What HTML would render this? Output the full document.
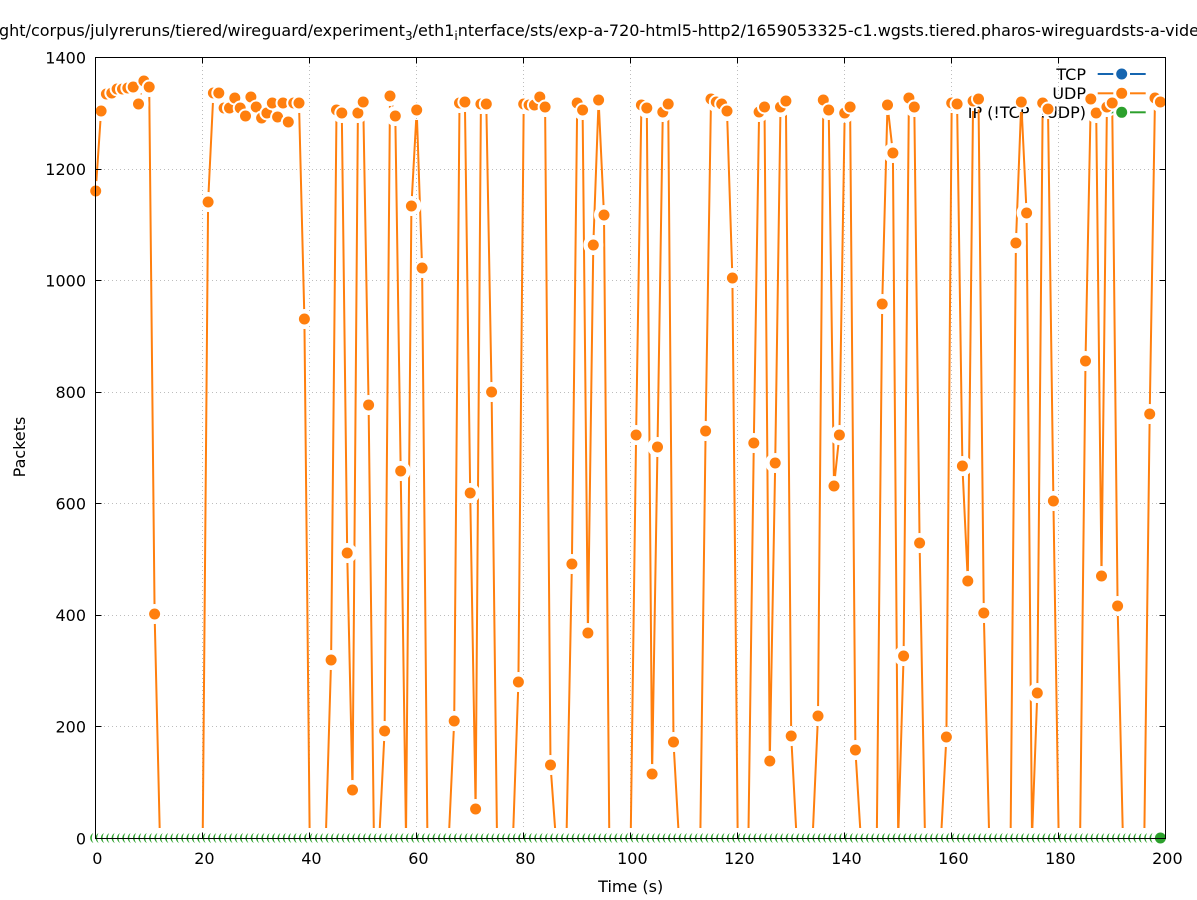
<!DOCTYPE html>
<html><head><meta charset="utf-8"><style>html,body{margin:0;padding:0;background:#fff;}svg{display:block;}</style></head>
<body>
<svg width="1197" height="900" viewBox="0 0 1197 900" xmlns="http://www.w3.org/2000/svg" xmlns:xlink="http://www.w3.org/1999/xlink" font-family="'DejaVu Sans', 'Liberation Sans', sans-serif">
<defs>
<clipPath id="cl"><rect x="95.7" y="57.5" width="1070" height="770.5"/></clipPath>
<circle id="mc" r="10"/>
<g id="op"><circle r="7.5" fill="#fff"/><circle r="5.5" fill="#ff7f0e"/></g>
<g id="gp"><circle cx="0" cy="838" r="9.3" fill="#fff"/><circle cx="0" cy="838" r="5.5" fill="#2ca02c"/></g>
<mask id="mk" maskUnits="userSpaceOnUse" x="0" y="0" width="1197" height="900">
<rect x="0" y="0" width="1197" height="900" fill="#fff"/>
<g fill="#000">
<use href="#mc" x="95.7" y="191"/><use href="#mc" x="101.1" y="111"/><use href="#mc" x="106.4" y="94"/><use href="#mc" x="111.8" y="93"/><use href="#mc" x="117.1" y="89"/><use href="#mc" x="122.5" y="89"/><use href="#mc" x="127.8" y="88"/><use href="#mc" x="133.2" y="87"/><use href="#mc" x="138.5" y="104"/><use href="#mc" x="143.9" y="81"/><use href="#mc" x="149.2" y="87"/><use href="#mc" x="154.6" y="614"/><use href="#mc" x="208.1" y="202"/><use href="#mc" x="213.4" y="93"/><use href="#mc" x="218.8" y="93"/><use href="#mc" x="224.1" y="108"/><use href="#mc" x="229.5" y="108"/><use href="#mc" x="234.8" y="98"/><use href="#mc" x="240.2" y="108"/><use href="#mc" x="245.5" y="116"/><use href="#mc" x="250.9" y="97"/><use href="#mc" x="256.2" y="107"/><use href="#mc" x="261.6" y="118"/><use href="#mc" x="266.9" y="113"/><use href="#mc" x="272.3" y="103"/><use href="#mc" x="277.6" y="117"/><use href="#mc" x="283.0" y="103"/><use href="#mc" x="288.3" y="122"/><use href="#mc" x="293.7" y="103"/><use href="#mc" x="299.0" y="103"/><use href="#mc" x="304.4" y="319"/><use href="#mc" x="331.1" y="660"/><use href="#mc" x="336.5" y="110"/><use href="#mc" x="341.8" y="113"/><use href="#mc" x="347.2" y="553"/><use href="#mc" x="352.5" y="790"/><use href="#mc" x="357.9" y="113"/><use href="#mc" x="363.2" y="102"/><use href="#mc" x="368.6" y="405"/><use href="#mc" x="384.6" y="731"/><use href="#mc" x="390.0" y="96"/><use href="#mc" x="395.3" y="116"/><use href="#mc" x="400.7" y="471"/><use href="#mc" x="411.4" y="206"/><use href="#mc" x="416.7" y="110"/><use href="#mc" x="422.1" y="268"/><use href="#mc" x="454.2" y="721"/><use href="#mc" x="459.5" y="103"/><use href="#mc" x="464.9" y="102"/><use href="#mc" x="470.2" y="493"/><use href="#mc" x="475.6" y="809"/><use href="#mc" x="480.9" y="104"/><use href="#mc" x="486.3" y="104"/><use href="#mc" x="491.6" y="392"/><use href="#mc" x="518.4" y="682"/><use href="#mc" x="523.7" y="104"/><use href="#mc" x="529.1" y="105"/><use href="#mc" x="534.4" y="105"/><use href="#mc" x="539.8" y="97"/><use href="#mc" x="545.1" y="107"/><use href="#mc" x="550.5" y="765"/><use href="#mc" x="571.9" y="564"/><use href="#mc" x="577.2" y="103"/><use href="#mc" x="582.6" y="110"/><use href="#mc" x="587.9" y="633"/><use href="#mc" x="593.3" y="245"/><use href="#mc" x="598.6" y="100"/><use href="#mc" x="604.0" y="215"/><use href="#mc" x="636.1" y="435"/><use href="#mc" x="641.4" y="105"/><use href="#mc" x="646.8" y="108"/><use href="#mc" x="652.1" y="774"/><use href="#mc" x="657.5" y="447"/><use href="#mc" x="662.8" y="112"/><use href="#mc" x="668.2" y="104"/><use href="#mc" x="673.5" y="742"/><use href="#mc" x="705.6" y="431"/><use href="#mc" x="711.0" y="99"/><use href="#mc" x="716.3" y="102"/><use href="#mc" x="721.7" y="104"/><use href="#mc" x="727.0" y="111"/><use href="#mc" x="732.4" y="278"/><use href="#mc" x="753.8" y="443"/><use href="#mc" x="759.1" y="112"/><use href="#mc" x="764.5" y="107"/><use href="#mc" x="769.8" y="761"/><use href="#mc" x="775.2" y="463"/><use href="#mc" x="780.5" y="107"/><use href="#mc" x="785.9" y="101"/><use href="#mc" x="791.2" y="736"/><use href="#mc" x="818.0" y="716"/><use href="#mc" x="823.3" y="100"/><use href="#mc" x="828.7" y="110"/><use href="#mc" x="834.0" y="486"/><use href="#mc" x="839.4" y="435"/><use href="#mc" x="844.7" y="113"/><use href="#mc" x="850.1" y="107"/><use href="#mc" x="855.4" y="750"/><use href="#mc" x="882.2" y="304"/><use href="#mc" x="887.5" y="105"/><use href="#mc" x="892.9" y="153"/><use href="#mc" x="903.6" y="656"/><use href="#mc" x="908.9" y="98"/><use href="#mc" x="914.3" y="107"/><use href="#mc" x="919.6" y="543"/><use href="#mc" x="946.4" y="737"/><use href="#mc" x="951.7" y="103"/><use href="#mc" x="957.1" y="104"/><use href="#mc" x="962.4" y="466"/><use href="#mc" x="967.8" y="581"/><use href="#mc" x="973.1" y="101"/><use href="#mc" x="978.5" y="99"/><use href="#mc" x="983.8" y="613"/><use href="#mc" x="1015.9" y="243"/><use href="#mc" x="1021.3" y="102"/><use href="#mc" x="1026.6" y="213"/><use href="#mc" x="1037.3" y="693"/><use href="#mc" x="1042.7" y="103"/><use href="#mc" x="1048.0" y="109"/><use href="#mc" x="1053.4" y="501"/><use href="#mc" x="1085.5" y="361"/><use href="#mc" x="1090.8" y="99"/><use href="#mc" x="1096.2" y="113"/><use href="#mc" x="1101.5" y="576"/><use href="#mc" x="1106.9" y="107"/><use href="#mc" x="1112.2" y="103"/><use href="#mc" x="1117.6" y="606"/><use href="#mc" x="1149.7" y="414"/><use href="#mc" x="1155.0" y="98"/><use href="#mc" x="1160.4" y="102"/>
</g>
</mask>
</defs>

<rect x="0" y="0" width="1197" height="900" fill="#fff"/>

<!-- title -->
<text x="-1" y="36" font-size="16" fill="#000">ght/corpus/julyreruns/tiered/wireguard/experiment<tspan font-size="12" dy="4">3</tspan><tspan dy="-4">/eth1</tspan><tspan font-size="12" dy="4">i</tspan><tspan dy="-4">nterface/sts/exp-a-720-html5-http2/1659053325-c1.wgsts.tiered.pharos-wireguardsts-a-video</tspan></text>

<!-- grid -->
<g stroke="#bdbdbd" stroke-width="1" stroke-dasharray="1,3" fill="none">
<line x1="202.5" y1="58" x2="202.5" y2="838"/><line x1="309.5" y1="58" x2="309.5" y2="838"/><line x1="416.5" y1="58" x2="416.5" y2="838"/><line x1="523.5" y1="58" x2="523.5" y2="838"/><line x1="630.5" y1="58" x2="630.5" y2="838"/><line x1="737.5" y1="58" x2="737.5" y2="838"/><line x1="844.5" y1="58" x2="844.5" y2="838"/><line x1="951.5" y1="58" x2="951.5" y2="838"/><line x1="1058.5" y1="58" x2="1058.5" y2="838"/>
<line x1="96" y1="726.5" x2="1165" y2="726.5"/><line x1="96" y1="615.5" x2="1165" y2="615.5"/><line x1="96" y1="503.5" x2="1165" y2="503.5"/><line x1="96" y1="392.5" x2="1165" y2="392.5"/><line x1="96" y1="280.5" x2="1165" y2="280.5"/><line x1="96" y1="169.5" x2="1165" y2="169.5"/>
</g>

<!-- legend -->
<g font-size="16" fill="#000" text-anchor="end">
<text x="1086" y="80">TCP</text>
<text x="1086" y="99">UDP</text>
<text x="1086" y="118">IP (!TCP &#160;!UDP)</text>
</g>
<g stroke-width="2">
<line x1="1097.7" y1="74" x2="1113.3" y2="74" stroke="#1565b0"/><line x1="1130" y1="74" x2="1145.7" y2="74" stroke="#1565b0"/>
<line x1="1097.7" y1="93.3" x2="1113.3" y2="93.3" stroke="#ff7f0e"/><line x1="1130" y1="93.3" x2="1145.7" y2="93.3" stroke="#ff7f0e"/>
<line x1="1097.7" y1="112.3" x2="1113.3" y2="112.3" stroke="#2ca02c"/><line x1="1130" y1="112.3" x2="1145.7" y2="112.3" stroke="#2ca02c"/>
</g>
<circle cx="1121.7" cy="74" r="5.5" fill="#1565b0"/>
<circle cx="1121.7" cy="93.3" r="5.5" fill="#ff7f0e"/>
<circle cx="1121.7" cy="112.3" r="5.5" fill="#2ca02c"/>

<!-- UDP line -->
<g clip-path="url(#cl)">
<g mask="url(#mk)">
<polyline fill="none" stroke="#ff7f0e" stroke-width="2" stroke-linejoin="round" points="95.7,191 101.1,111 106.4,94 111.8,93 117.1,89 122.5,89 127.8,88 133.2,87 138.5,104 143.9,81 149.2,87 154.6,614 159.9,838 202.7,838 208.1,202 213.4,93 218.8,93 224.1,108 229.5,108 234.8,98 240.2,108 245.5,116 250.9,97 256.2,107 261.6,118 266.9,113 272.3,103 277.6,117 283.0,103 288.3,122 293.7,103 299.0,103 304.4,319 309.7,838 325.8,838 331.1,660 336.5,110 341.8,113 347.2,553 352.5,790 357.9,113 363.2,102 368.6,405 373.9,838 379.3,838 384.6,731 390.0,96 395.3,116 400.7,471 406.0,838 411.4,206 416.7,110 422.1,268 427.4,838 448.8,838 454.2,721 459.5,103 464.9,102 470.2,493 475.6,809 480.9,104 486.3,104 491.6,392 497.0,838 513.0,838 518.4,682 523.7,104 529.1,105 534.4,105 539.8,97 545.1,107 550.5,765 555.8,838 566.5,838 571.9,564 577.2,103 582.6,110 587.9,633 593.3,245 598.6,100 604.0,215 609.3,838 630.7,838 636.1,435 641.4,105 646.8,108 652.1,774 657.5,447 662.8,112 668.2,104 673.5,742 678.9,838 700.3,838 705.6,431 711.0,99 716.3,102 721.7,104 727.0,111 732.4,278 737.7,838 748.4,838 753.8,443 759.1,112 764.5,107 769.8,761 775.2,463 780.5,107 785.9,101 791.2,736 796.6,838 812.6,838 818.0,716 823.3,100 828.7,110 834.0,486 839.4,435 844.7,113 850.1,107 855.4,750 860.8,838 876.8,838 882.2,304 887.5,105 892.9,153 898.2,838 903.6,656 908.9,98 914.3,107 919.6,543 925.0,838 941.0,838 946.4,737 951.7,103 957.1,104 962.4,466 967.8,581 973.1,101 978.5,99 983.8,613 989.2,838 1010.6,838 1015.9,243 1021.3,102 1026.6,213 1032.0,838 1037.3,693 1042.7,103 1048.0,109 1053.4,501 1058.7,838 1080.1,838 1085.5,361 1090.8,99 1096.2,113 1101.5,576 1106.9,107 1112.2,103 1117.6,606 1122.9,838 1144.3,838 1149.7,414 1155.0,98 1160.4,102"/>
</g>
</g>

<!-- UDP points -->
<g>
<use href="#op" x="95.7" y="191"/><use href="#op" x="101.1" y="111"/><use href="#op" x="106.4" y="94"/><use href="#op" x="111.8" y="93"/><use href="#op" x="117.1" y="89"/><use href="#op" x="122.5" y="89"/><use href="#op" x="127.8" y="88"/><use href="#op" x="133.2" y="87"/><use href="#op" x="138.5" y="104"/><use href="#op" x="143.9" y="81"/><use href="#op" x="149.2" y="87"/><use href="#op" x="154.6" y="614"/><use href="#op" x="208.1" y="202"/><use href="#op" x="213.4" y="93"/><use href="#op" x="218.8" y="93"/><use href="#op" x="224.1" y="108"/><use href="#op" x="229.5" y="108"/><use href="#op" x="234.8" y="98"/><use href="#op" x="240.2" y="108"/><use href="#op" x="245.5" y="116"/><use href="#op" x="250.9" y="97"/><use href="#op" x="256.2" y="107"/><use href="#op" x="261.6" y="118"/><use href="#op" x="266.9" y="113"/><use href="#op" x="272.3" y="103"/><use href="#op" x="277.6" y="117"/><use href="#op" x="283.0" y="103"/><use href="#op" x="288.3" y="122"/><use href="#op" x="293.7" y="103"/><use href="#op" x="299.0" y="103"/><use href="#op" x="304.4" y="319"/><use href="#op" x="331.1" y="660"/><use href="#op" x="336.5" y="110"/><use href="#op" x="341.8" y="113"/><use href="#op" x="347.2" y="553"/><use href="#op" x="352.5" y="790"/><use href="#op" x="357.9" y="113"/><use href="#op" x="363.2" y="102"/><use href="#op" x="368.6" y="405"/><use href="#op" x="384.6" y="731"/><use href="#op" x="390.0" y="96"/><use href="#op" x="395.3" y="116"/><use href="#op" x="400.7" y="471"/><use href="#op" x="411.4" y="206"/><use href="#op" x="416.7" y="110"/><use href="#op" x="422.1" y="268"/><use href="#op" x="454.2" y="721"/><use href="#op" x="459.5" y="103"/><use href="#op" x="464.9" y="102"/><use href="#op" x="470.2" y="493"/><use href="#op" x="475.6" y="809"/><use href="#op" x="480.9" y="104"/><use href="#op" x="486.3" y="104"/><use href="#op" x="491.6" y="392"/><use href="#op" x="518.4" y="682"/><use href="#op" x="523.7" y="104"/><use href="#op" x="529.1" y="105"/><use href="#op" x="534.4" y="105"/><use href="#op" x="539.8" y="97"/><use href="#op" x="545.1" y="107"/><use href="#op" x="550.5" y="765"/><use href="#op" x="571.9" y="564"/><use href="#op" x="577.2" y="103"/><use href="#op" x="582.6" y="110"/><use href="#op" x="587.9" y="633"/><use href="#op" x="593.3" y="245"/><use href="#op" x="598.6" y="100"/><use href="#op" x="604.0" y="215"/><use href="#op" x="636.1" y="435"/><use href="#op" x="641.4" y="105"/><use href="#op" x="646.8" y="108"/><use href="#op" x="652.1" y="774"/><use href="#op" x="657.5" y="447"/><use href="#op" x="662.8" y="112"/><use href="#op" x="668.2" y="104"/><use href="#op" x="673.5" y="742"/><use href="#op" x="705.6" y="431"/><use href="#op" x="711.0" y="99"/><use href="#op" x="716.3" y="102"/><use href="#op" x="721.7" y="104"/><use href="#op" x="727.0" y="111"/><use href="#op" x="732.4" y="278"/><use href="#op" x="753.8" y="443"/><use href="#op" x="759.1" y="112"/><use href="#op" x="764.5" y="107"/><use href="#op" x="769.8" y="761"/><use href="#op" x="775.2" y="463"/><use href="#op" x="780.5" y="107"/><use href="#op" x="785.9" y="101"/><use href="#op" x="791.2" y="736"/><use href="#op" x="818.0" y="716"/><use href="#op" x="823.3" y="100"/><use href="#op" x="828.7" y="110"/><use href="#op" x="834.0" y="486"/><use href="#op" x="839.4" y="435"/><use href="#op" x="844.7" y="113"/><use href="#op" x="850.1" y="107"/><use href="#op" x="855.4" y="750"/><use href="#op" x="882.2" y="304"/><use href="#op" x="887.5" y="105"/><use href="#op" x="892.9" y="153"/><use href="#op" x="903.6" y="656"/><use href="#op" x="908.9" y="98"/><use href="#op" x="914.3" y="107"/><use href="#op" x="919.6" y="543"/><use href="#op" x="946.4" y="737"/><use href="#op" x="951.7" y="103"/><use href="#op" x="957.1" y="104"/><use href="#op" x="962.4" y="466"/><use href="#op" x="967.8" y="581"/><use href="#op" x="973.1" y="101"/><use href="#op" x="978.5" y="99"/><use href="#op" x="983.8" y="613"/><use href="#op" x="1015.9" y="243"/><use href="#op" x="1021.3" y="102"/><use href="#op" x="1026.6" y="213"/><use href="#op" x="1037.3" y="693"/><use href="#op" x="1042.7" y="103"/><use href="#op" x="1048.0" y="109"/><use href="#op" x="1053.4" y="501"/><use href="#op" x="1085.5" y="361"/><use href="#op" x="1090.8" y="99"/><use href="#op" x="1096.2" y="113"/><use href="#op" x="1101.5" y="576"/><use href="#op" x="1106.9" y="107"/><use href="#op" x="1112.2" y="103"/><use href="#op" x="1117.6" y="606"/><use href="#op" x="1149.7" y="414"/><use href="#op" x="1155.0" y="98"/><use href="#op" x="1160.4" y="102"/>
</g>

<!-- IP points (all zero) -->
<g>
<use href="#gp" x="95.7"/><use href="#gp" x="101.1"/><use href="#gp" x="106.4"/><use href="#gp" x="111.8"/><use href="#gp" x="117.1"/><use href="#gp" x="122.5"/><use href="#gp" x="127.8"/><use href="#gp" x="133.2"/><use href="#gp" x="138.5"/><use href="#gp" x="143.9"/><use href="#gp" x="149.2"/><use href="#gp" x="154.6"/><use href="#gp" x="159.9"/><use href="#gp" x="165.3"/><use href="#gp" x="170.6"/><use href="#gp" x="176.0"/><use href="#gp" x="181.3"/><use href="#gp" x="186.7"/><use href="#gp" x="192.0"/><use href="#gp" x="197.4"/>
<use href="#gp" x="202.7"/><use href="#gp" x="208.1"/><use href="#gp" x="213.4"/><use href="#gp" x="218.8"/><use href="#gp" x="224.1"/><use href="#gp" x="229.5"/><use href="#gp" x="234.8"/><use href="#gp" x="240.2"/><use href="#gp" x="245.5"/><use href="#gp" x="250.9"/><use href="#gp" x="256.2"/><use href="#gp" x="261.6"/><use href="#gp" x="266.9"/><use href="#gp" x="272.3"/><use href="#gp" x="277.6"/><use href="#gp" x="283.0"/><use href="#gp" x="288.3"/><use href="#gp" x="293.7"/><use href="#gp" x="299.0"/><use href="#gp" x="304.4"/>
<use href="#gp" x="309.7"/><use href="#gp" x="315.1"/><use href="#gp" x="320.4"/><use href="#gp" x="325.8"/><use href="#gp" x="331.1"/><use href="#gp" x="336.5"/><use href="#gp" x="341.8"/><use href="#gp" x="347.2"/><use href="#gp" x="352.5"/><use href="#gp" x="357.9"/><use href="#gp" x="363.2"/><use href="#gp" x="368.6"/><use href="#gp" x="373.9"/><use href="#gp" x="379.3"/><use href="#gp" x="384.6"/><use href="#gp" x="390.0"/><use href="#gp" x="395.3"/><use href="#gp" x="400.7"/><use href="#gp" x="406.0"/><use href="#gp" x="411.4"/>
<use href="#gp" x="416.7"/><use href="#gp" x="422.1"/><use href="#gp" x="427.4"/><use href="#gp" x="432.8"/><use href="#gp" x="438.1"/><use href="#gp" x="443.5"/><use href="#gp" x="448.8"/><use href="#gp" x="454.2"/><use href="#gp" x="459.5"/><use href="#gp" x="464.9"/><use href="#gp" x="470.2"/><use href="#gp" x="475.6"/><use href="#gp" x="480.9"/><use href="#gp" x="486.3"/><use href="#gp" x="491.6"/><use href="#gp" x="497.0"/><use href="#gp" x="502.3"/><use href="#gp" x="507.7"/><use href="#gp" x="513.0"/><use href="#gp" x="518.4"/>
<use href="#gp" x="523.7"/><use href="#gp" x="529.1"/><use href="#gp" x="534.4"/><use href="#gp" x="539.8"/><use href="#gp" x="545.1"/><use href="#gp" x="550.5"/><use href="#gp" x="555.8"/><use href="#gp" x="561.2"/><use href="#gp" x="566.5"/><use href="#gp" x="571.9"/><use href="#gp" x="577.2"/><use href="#gp" x="582.6"/><use href="#gp" x="587.9"/><use href="#gp" x="593.3"/><use href="#gp" x="598.6"/><use href="#gp" x="604.0"/><use href="#gp" x="609.3"/><use href="#gp" x="614.7"/><use href="#gp" x="620.0"/><use href="#gp" x="625.4"/>
<use href="#gp" x="630.7"/><use href="#gp" x="636.1"/><use href="#gp" x="641.4"/><use href="#gp" x="646.8"/><use href="#gp" x="652.1"/><use href="#gp" x="657.5"/><use href="#gp" x="662.8"/><use href="#gp" x="668.2"/><use href="#gp" x="673.5"/><use href="#gp" x="678.9"/><use href="#gp" x="684.2"/><use href="#gp" x="689.6"/><use href="#gp" x="694.9"/><use href="#gp" x="700.3"/><use href="#gp" x="705.6"/><use href="#gp" x="711.0"/><use href="#gp" x="716.3"/><use href="#gp" x="721.7"/><use href="#gp" x="727.0"/><use href="#gp" x="732.4"/>
<use href="#gp" x="737.7"/><use href="#gp" x="743.1"/><use href="#gp" x="748.4"/><use href="#gp" x="753.8"/><use href="#gp" x="759.1"/><use href="#gp" x="764.5"/><use href="#gp" x="769.8"/><use href="#gp" x="775.2"/><use href="#gp" x="780.5"/><use href="#gp" x="785.9"/><use href="#gp" x="791.2"/><use href="#gp" x="796.6"/><use href="#gp" x="801.9"/><use href="#gp" x="807.3"/><use href="#gp" x="812.6"/><use href="#gp" x="818.0"/><use href="#gp" x="823.3"/><use href="#gp" x="828.7"/><use href="#gp" x="834.0"/><use href="#gp" x="839.4"/>
<use href="#gp" x="844.7"/><use href="#gp" x="850.1"/><use href="#gp" x="855.4"/><use href="#gp" x="860.8"/><use href="#gp" x="866.1"/><use href="#gp" x="871.5"/><use href="#gp" x="876.8"/><use href="#gp" x="882.2"/><use href="#gp" x="887.5"/><use href="#gp" x="892.9"/><use href="#gp" x="898.2"/><use href="#gp" x="903.6"/><use href="#gp" x="908.9"/><use href="#gp" x="914.3"/><use href="#gp" x="919.6"/><use href="#gp" x="925.0"/><use href="#gp" x="930.3"/><use href="#gp" x="935.7"/><use href="#gp" x="941.0"/><use href="#gp" x="946.4"/>
<use href="#gp" x="951.7"/><use href="#gp" x="957.1"/><use href="#gp" x="962.4"/><use href="#gp" x="967.8"/><use href="#gp" x="973.1"/><use href="#gp" x="978.5"/><use href="#gp" x="983.8"/><use href="#gp" x="989.2"/><use href="#gp" x="994.5"/><use href="#gp" x="999.9"/><use href="#gp" x="1005.2"/><use href="#gp" x="1010.6"/><use href="#gp" x="1015.9"/><use href="#gp" x="1021.3"/><use href="#gp" x="1026.6"/><use href="#gp" x="1032.0"/><use href="#gp" x="1037.3"/><use href="#gp" x="1042.7"/><use href="#gp" x="1048.0"/><use href="#gp" x="1053.4"/>
<use href="#gp" x="1058.7"/><use href="#gp" x="1064.1"/><use href="#gp" x="1069.4"/><use href="#gp" x="1074.8"/><use href="#gp" x="1080.1"/><use href="#gp" x="1085.5"/><use href="#gp" x="1090.8"/><use href="#gp" x="1096.2"/><use href="#gp" x="1101.5"/><use href="#gp" x="1106.9"/><use href="#gp" x="1112.2"/><use href="#gp" x="1117.6"/><use href="#gp" x="1122.9"/><use href="#gp" x="1128.3"/><use href="#gp" x="1133.6"/><use href="#gp" x="1139.0"/><use href="#gp" x="1144.3"/><use href="#gp" x="1149.7"/><use href="#gp" x="1155.0"/><use href="#gp" x="1160.4"/>
</g>

<!-- border and ticks -->
<rect x="95.5" y="57.5" width="1070" height="781" fill="none" stroke="#000" stroke-width="1"/>
<g stroke="#000" stroke-width="1">
<line x1="202.5" y1="838.5" x2="202.5" y2="832.5"/><line x1="309.5" y1="838.5" x2="309.5" y2="832.5"/><line x1="416.5" y1="838.5" x2="416.5" y2="832.5"/><line x1="523.5" y1="838.5" x2="523.5" y2="832.5"/><line x1="630.5" y1="838.5" x2="630.5" y2="832.5"/><line x1="737.5" y1="838.5" x2="737.5" y2="832.5"/><line x1="844.5" y1="838.5" x2="844.5" y2="832.5"/><line x1="951.5" y1="838.5" x2="951.5" y2="832.5"/><line x1="1058.5" y1="838.5" x2="1058.5" y2="832.5"/>
<line x1="202.5" y1="57.5" x2="202.5" y2="63.5"/><line x1="309.5" y1="57.5" x2="309.5" y2="63.5"/><line x1="416.5" y1="57.5" x2="416.5" y2="63.5"/><line x1="523.5" y1="57.5" x2="523.5" y2="63.5"/><line x1="630.5" y1="57.5" x2="630.5" y2="63.5"/><line x1="737.5" y1="57.5" x2="737.5" y2="63.5"/><line x1="844.5" y1="57.5" x2="844.5" y2="63.5"/><line x1="951.5" y1="57.5" x2="951.5" y2="63.5"/><line x1="1058.5" y1="57.5" x2="1058.5" y2="63.5"/>
<line x1="95.5" y1="726.5" x2="101.5" y2="726.5"/><line x1="95.5" y1="615.5" x2="101.5" y2="615.5"/><line x1="95.5" y1="503.5" x2="101.5" y2="503.5"/><line x1="95.5" y1="392.5" x2="101.5" y2="392.5"/><line x1="95.5" y1="280.5" x2="101.5" y2="280.5"/><line x1="95.5" y1="169.5" x2="101.5" y2="169.5"/>
<line x1="1165.5" y1="726.5" x2="1159.5" y2="726.5"/><line x1="1165.5" y1="615.5" x2="1159.5" y2="615.5"/><line x1="1165.5" y1="503.5" x2="1159.5" y2="503.5"/><line x1="1165.5" y1="392.5" x2="1159.5" y2="392.5"/><line x1="1165.5" y1="280.5" x2="1159.5" y2="280.5"/><line x1="1165.5" y1="169.5" x2="1159.5" y2="169.5"/>
</g>

<!-- tick labels -->
<g font-size="16" fill="#000" text-anchor="end">
<text x="86" y="844.5">0</text>
<text x="86" y="732.5">200</text>
<text x="86" y="621">400</text>
<text x="86" y="509.5">600</text>
<text x="86" y="398">800</text>
<text x="86" y="286.5">1000</text>
<text x="86" y="175">1200</text>
<text x="86" y="63.5">1400</text>
</g>
<g font-size="16" fill="#000" text-anchor="middle">
<text x="97.4" y="864">0</text>
<text x="204.4" y="864">20</text>
<text x="311.4" y="864">40</text>
<text x="418.4" y="864">60</text>
<text x="525.4" y="864">80</text>
<text x="632.4" y="864">100</text>
<text x="739.4" y="864">120</text>
<text x="846.4" y="864">140</text>
<text x="953.4" y="864">160</text>
<text x="1060.4" y="864">180</text>
<text x="1167.4" y="864">200</text>
</g>

<!-- axis labels -->
<text x="630.7" y="892" font-size="16" text-anchor="middle" fill="#000">Time (s)</text>
<text transform="translate(25,447) rotate(-90)" font-size="16" text-anchor="middle" fill="#000">Packets</text>
</svg>
</body></html>
